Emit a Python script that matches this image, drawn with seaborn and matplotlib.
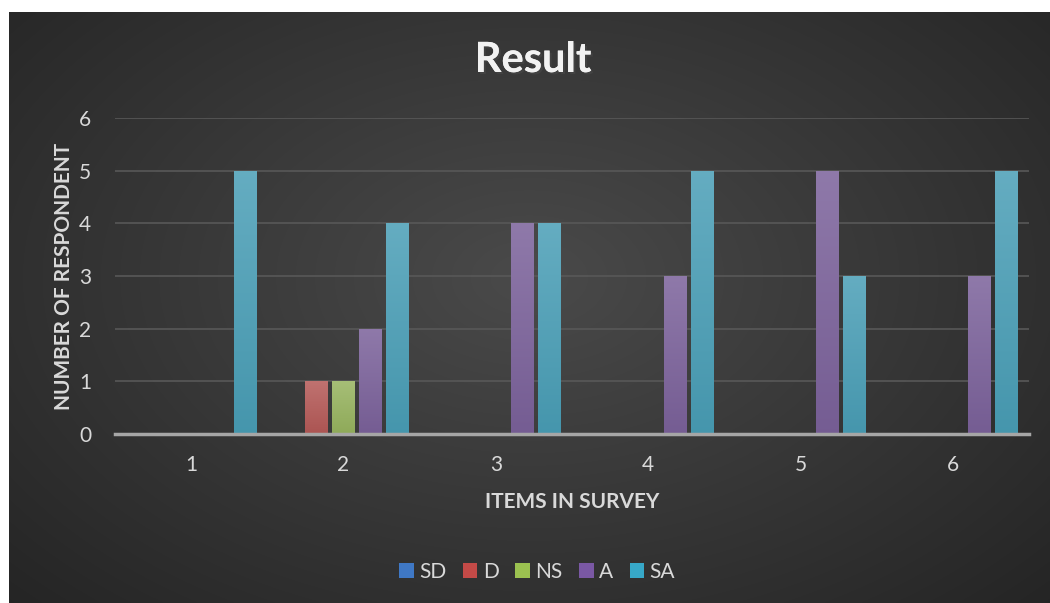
import numpy as np
import pandas as pd
import matplotlib
matplotlib.use("Agg")
import matplotlib.pyplot as plt
import matplotlib.patheffects as pe
from matplotlib.patches import Patch
from matplotlib.colors import to_rgb
import seaborn as sns

# ---- data ----
items = ["1", "2", "3", "4", "5", "6"]
responses = ["SD", "D", "NS", "A", "SA"]
SD = [0, 0, 0, 0, 0, 0]
D = [0, 1, 0, 0, 0, 0]
NS = [0, 1, 0, 0, 0, 0]
A = [0, 2, 4, 3, 5, 3]
SA = [5, 4, 4, 5, 3, 5]
colors = ["#3f78c5", "#c44a47", "#9bc150", "#7a58a4", "#37a8c8"]
title = "Result"
ylabel = "NUMBER OF RESPONDENT"
xlabel = "ITEMS IN SURVEY"
yticks = [0, 1, 2, 3, 4, 5, 6]

series = {"SD": SD, "D": D, "NS": NS, "A": A, "SA": SA}
df = pd.DataFrame([(it, r, series[r][i]) for r in responses for i, it in enumerate(items)],
                  columns=["item", "resp", "count"])

sns.set_theme(style="dark")
plt.rcParams["font.family"] = ["Lato", "DejaVu Sans"]

W, H = 1050, 603
fig = plt.figure(figsize=(W / 100, H / 100), dpi=100)
fig.patch.set_facecolor("white")

# background (dark radial gradient), starting at x=9, y=12
bx0, by0 = 9 / W, 0.0
bax = fig.add_axes([bx0, by0, 1 - bx0, 1 - 12 / H], zorder=-10)
yy, xx = np.mgrid[0:1:300j, 0:1:500j]
d = np.sqrt(((xx - 0.5) / 0.75) ** 2 + ((yy - 0.55) / 0.85) ** 2)
g = np.clip(74 - 40 * d, 36, 74) / 255.0
img = np.dstack([g, g, g])
bax.imshow(img, aspect="auto", extent=[0, 1, 0, 1], origin="lower", interpolation="bilinear")
bax.set_axis_off()

ax = fig.add_axes([115 / W, 1 - 434 / H, (1029 - 115) / W, (434 - 118) / H])
ax.set_facecolor("none")
sns.barplot(data=df, x="item", y="count", hue="resp", hue_order=responses,
            palette=colors, width=0.886, gap=0.15, linewidth=0, ax=ax,
            legend=False, zorder=3, errorbar=None)

# vertical gradient on bars (lighter at top)
for bar in list(ax.patches):
    h = bar.get_height()
    if h <= 0:
        bar.set_visible(False)
        continue
    c = np.array(to_rgb(bar.get_facecolor()))
    top = c + (1 - c) * 0.15
    bot = c * 0.95
    t = np.linspace(0, 1, 64)[:, None]
    grad = bot[None, :] * (1 - t) + top[None, :] * t
    grad = grad[:, None, :]
    x0 = bar.get_x()
    im = ax.imshow(grad, extent=[x0, x0 + bar.get_width(), 0, h], origin="lower",
                   aspect="auto", zorder=3.5, interpolation="bilinear")
    im.set_clip_path(bar)

ax.set_xlim(-0.5, len(items) - 0.5)
ax.set_ylim(0, 6)
ax.set_yticks(yticks)
ax.set_yticklabels([str(v) for v in yticks])
ax.grid(axis="y", color="#585858", linewidth=1.2, zorder=0)
ax.grid(axis="x", visible=False)
for s in ["top", "right", "left"]:
    ax.spines[s].set_visible(False)
ax.spines["bottom"].set_color("#a6a6a6")
ax.spines["bottom"].set_linewidth(2.5)
ax.spines["bottom"].set_zorder(5)
ax.tick_params(axis="both", colors="#d9d9d9", labelsize=15, length=0)
ax.tick_params(axis="x", pad=15)
ax.tick_params(axis="y", pad=17)
ax.set_xlabel(xlabel, color="#d9d9d9", fontsize=15, fontweight="bold", labelpad=12)
ax.set_ylabel(ylabel, color="#d9d9d9", fontsize=15, fontweight="bold", labelpad=4)

fig.text(533 / W, 1 - 60 / H, title, ha="center", va="center", fontsize=30,
         fontweight="bold", color="#f2f2f2",
         path_effects=[pe.withSimplePatchShadow(offset=(1.5, -1.5), alpha=0.6), pe.Normal()])

handles = [Patch(facecolor=c, edgecolor="none") for c in colors]
fig.legend(handles, responses, loc="center", bbox_to_anchor=(537 / W, 1 - 572 / H),
           ncol=5, frameon=False, fontsize=15, labelcolor="#d9d9d9",
           handlelength=0.7, handleheight=0.7, handletextpad=0.25, columnspacing=0.8)

fig.savefig("out.png", dpi=100, facecolor=fig.get_facecolor())
